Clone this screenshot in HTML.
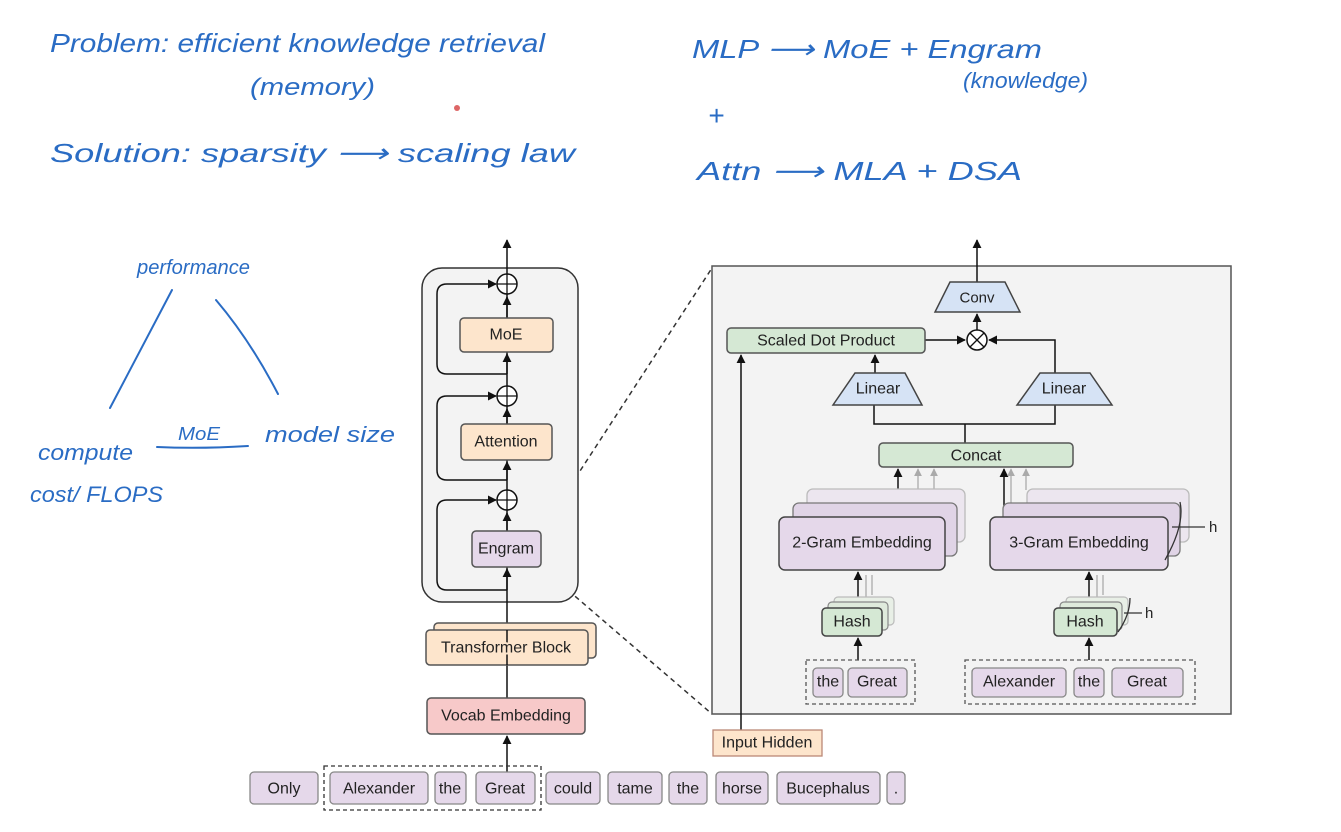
<!DOCTYPE html>
<html><head><meta charset="utf-8"><style>
html,body{margin:0;padding:0;background:#fff;}
svg{display:block}
.h{font-family:"Liberation Sans",sans-serif;fill:#2a6cc4;font-style:italic;}
.t{font-family:"Liberation Sans",sans-serif;fill:#222;text-anchor:middle;dominant-baseline:central;}
</style></head><body>
<svg width="1341" height="832" viewBox="0 0 1341 832" xmlns="http://www.w3.org/2000/svg">
<defs>
<marker id="a" viewBox="0 0 10 10" refX="9" refY="5" markerWidth="6" markerHeight="6" orient="auto"><path d="M0,0L10,5L0,10z" fill="#111"/></marker>
<marker id="g" viewBox="0 0 10 10" refX="9" refY="5" markerWidth="6" markerHeight="6" orient="auto"><path d="M0,0L10,5L0,10z" fill="#aaa"/></marker>
</defs>
<rect width="1341" height="832" fill="#fff"/>
<g class="h">
<text x="50" y="52" font-size="26" textLength="495" lengthAdjust="spacingAndGlyphs">Problem: efficient knowledge retrieval</text>
<text x="250" y="95" font-size="24" textLength="125" lengthAdjust="spacingAndGlyphs">(memory)</text>
<text x="50" y="162" font-size="26" textLength="525" lengthAdjust="spacingAndGlyphs">Solution:  sparsity  ⟶  scaling  law</text>
<text x="692" y="58" font-size="26" textLength="350" lengthAdjust="spacingAndGlyphs">MLP ⟶ MoE  +  Engram</text>
<text x="963" y="88" font-size="22" textLength="125" lengthAdjust="spacingAndGlyphs">(knowledge)</text>
<text x="708" y="125" font-size="28">+</text>
<text x="697" y="180" font-size="26" textLength="325" lengthAdjust="spacingAndGlyphs">Attn ⟶ MLA  +  DSA</text>
<text x="137" y="274" font-size="20" textLength="113" lengthAdjust="spacingAndGlyphs">performance</text>
<text x="38" y="460" font-size="22" textLength="95" lengthAdjust="spacingAndGlyphs">compute</text>
<text x="178" y="440" font-size="18" textLength="42" lengthAdjust="spacingAndGlyphs">MoE</text>
<text x="265" y="442" font-size="22" textLength="130" lengthAdjust="spacingAndGlyphs">model size</text>
<text x="30" y="502" font-size="22" textLength="133" lengthAdjust="spacingAndGlyphs">cost/ FLOPS</text>
</g>
<g stroke="#2a6cc4" stroke-width="2" fill="none" stroke-linecap="round">
<path d="M172,290 L110,408"/><path d="M216,300 Q250,340 278,394"/><path d="M157,447 Q200,449 248,446"/>
</g>
<circle cx="457" cy="108" r="3" fill="#d66" />
<g stroke="#333" stroke-width="1.5" stroke-dasharray="5,4">
<line x1="541" y1="531" x2="712" y2="268"/><line x1="541" y1="567" x2="712" y2="714"/>
</g>
<rect x="422" y="268" width="156" height="334" rx="20" fill="#f3f3f3" stroke="#333" stroke-width="1.5"/>
<g stroke="#111" stroke-width="1.5" fill="none">
<line x1="507" y1="698" x2="507" y2="240" marker-end="url(#a)"/>
<path d="M507,374 H447 Q437,374 437,364 V294 Q437,284 447,284 H496" marker-end="url(#a)"/>
<path d="M507,480 H447 Q437,480 437,470 V406 Q437,396 447,396 H496" marker-end="url(#a)"/>
<path d="M507,590 H447 Q437,590 437,580 V510 Q437,500 447,500 H496" marker-end="url(#a)"/>
<line x1="507" y1="318" x2="507" y2="297" marker-end="url(#a)"/>
<line x1="507" y1="424" x2="507" y2="409" marker-end="url(#a)"/>
<line x1="507" y1="531" x2="507" y2="513" marker-end="url(#a)"/>
<line x1="507" y1="374" x2="507" y2="354" marker-end="url(#a)"/>
<line x1="507" y1="480" x2="507" y2="462" marker-end="url(#a)"/>
<line x1="507" y1="590" x2="507" y2="569" marker-end="url(#a)"/>
<line x1="507" y1="772" x2="507" y2="736" marker-end="url(#a)"/>
</g>
<g fill="#fff" stroke="#111" stroke-width="1.5">
<circle cx="507" cy="284" r="10"/><circle cx="507" cy="396" r="10"/><circle cx="507" cy="500" r="10"/>
</g>
<g stroke="#111" stroke-width="1.3"><path d="M497,284h20M507,274v20M497,396h20M507,386v20M497,500h20M507,490v20"/></g>
<rect x="460" y="318" width="93" height="34" rx="4" fill="#fde5cc" stroke="#555" stroke-width="1.5"/>
<text class="t" x="506" y="335" font-size="16">MoE</text>
<rect x="461" y="424" width="91" height="36" rx="4" fill="#fde5cc" stroke="#555" stroke-width="1.5"/>
<text class="t" x="506" y="442" font-size="16">Attention</text>
<rect x="472" y="531" width="69" height="36" rx="4" fill="#e5d8ea" stroke="#555" stroke-width="1.5"/>
<text class="t" x="506" y="549" font-size="16">Engram</text>
<rect x="434" y="623" width="162" height="35" rx="4" fill="#fde5cc" stroke="#555" stroke-width="1.5"/>
<rect x="426" y="630" width="162" height="35" rx="4" fill="#fde5cc" stroke="#555" stroke-width="1.5"/>
<line x1="507" y1="630" x2="507" y2="665" stroke="#111" stroke-width="1.5"/>
<text class="t" x="506" y="648" font-size="16" style="paint-order:stroke" stroke="#fde5cc" stroke-width="4">Transformer Block</text>
<rect x="427" y="698" width="158" height="36" rx="4" fill="#f7c9c9" stroke="#555" stroke-width="1.5"/>
<text class="t" x="506" y="716" font-size="16">Vocab Embedding</text>
<rect x="324" y="766" width="217" height="44" fill="none" stroke="#333" stroke-width="1.3" stroke-dasharray="4,3"/>
<g fill="#e5d8ea" stroke="#888" stroke-width="1.3">
<rect x="250" y="772" width="68" height="32" rx="4"/><rect x="330" y="772" width="98" height="32" rx="4"/><rect x="435" y="772" width="31" height="32" rx="4"/><rect x="476" y="772" width="59" height="32" rx="4"/><rect x="546" y="772" width="54" height="32" rx="4"/><rect x="608" y="772" width="54" height="32" rx="4"/><rect x="669" y="772" width="38" height="32" rx="4"/><rect x="716" y="772" width="52" height="32" rx="4"/><rect x="777" y="772" width="103" height="32" rx="4"/><rect x="887" y="772" width="18" height="32" rx="4"/>
</g>
<g class="t" font-size="16">
<text x="284" y="789">Only</text><text x="379" y="789">Alexander</text><text x="450" y="789">the</text><text x="505" y="789">Great</text><text x="573" y="789">could</text><text x="635" y="789">tame</text><text x="688" y="789">the</text><text x="742" y="789">horse</text><text x="828" y="789">Bucephalus</text><text x="896" y="789">.</text>
</g>
<rect x="712" y="266" width="519" height="448" fill="#f3f3f3" stroke="#555" stroke-width="1.5"/>
<g stroke="#111" stroke-width="1.5" fill="none">
<line x1="977" y1="282" x2="977" y2="240" marker-end="url(#a)"/>
<line x1="977" y1="330" x2="977" y2="314" marker-end="url(#a)"/>
<line x1="925" y1="340" x2="965" y2="340" marker-end="url(#a)"/>
<path d="M1055,373 V340 H989" marker-end="url(#a)"/>
<line x1="875" y1="373" x2="875" y2="355" marker-end="url(#a)"/>
<path d="M874,405 V424 H1055 V405 M965,424 V443"/>
<line x1="741" y1="730" x2="741" y2="355" marker-end="url(#a)"/>
<line x1="898" y1="517" x2="898" y2="469" marker-end="url(#a)"/>
<line x1="1004" y1="517" x2="1004" y2="469" marker-end="url(#a)"/>
<line x1="858" y1="608" x2="858" y2="572" marker-end="url(#a)"/>
<line x1="858" y1="660" x2="858" y2="638" marker-end="url(#a)"/>
<line x1="1089" y1="608" x2="1089" y2="572" marker-end="url(#a)"/>
<line x1="1089" y1="660" x2="1089" y2="638" marker-end="url(#a)"/>
</g>
<g stroke="#aaa" stroke-width="1.3">
<line x1="918" y1="503" x2="918" y2="469" marker-end="url(#g)"/><line x1="934" y1="490" x2="934" y2="469" marker-end="url(#g)"/>
<line x1="1011" y1="503" x2="1011" y2="469" marker-end="url(#g)"/><line x1="1026" y1="490" x2="1026" y2="469" marker-end="url(#g)"/>
<line x1="866" y1="575" x2="866" y2="600"/><line x1="872" y1="575" x2="872" y2="595"/>
<line x1="1097" y1="575" x2="1097" y2="600"/><line x1="1103" y1="575" x2="1103" y2="595"/>
</g>
<polygon points="950,282 1005,282 1020,312 935,312" fill="#d6e3f5" stroke="#444" stroke-width="1.5"/>
<text class="t" x="977" y="298" font-size="15">Conv</text>
<circle cx="977" cy="340" r="10" fill="#fff" stroke="#111" stroke-width="1.5"/>
<path d="M970,333l14,14M984,333l-14,14" stroke="#111" stroke-width="1.3"/>
<rect x="727" y="328" width="198" height="25" rx="4" fill="#d5e8d4" stroke="#555" stroke-width="1.5"/>
<text class="t" x="826" y="341" font-size="16">Scaled Dot Product</text>
<polygon points="855,373 905,373 922,405 833,405" fill="#d6e3f5" stroke="#444" stroke-width="1.5"/>
<text class="t" x="878" y="389" font-size="16">Linear</text>
<polygon points="1040,373 1090,373 1112,405 1017,405" fill="#d6e3f5" stroke="#444" stroke-width="1.5"/>
<text class="t" x="1064" y="389" font-size="16">Linear</text>
<rect x="879" y="443" width="194" height="24" rx="4" fill="#d5e8d4" stroke="#555" stroke-width="1.5"/>
<text class="t" x="976" y="456" font-size="16">Concat</text>
<rect x="807" y="489" width="158" height="53" rx="6" fill="#ece6ef" stroke="#bbb" stroke-width="1.3"/>
<rect x="793" y="503" width="164" height="53" rx="6" fill="#e0d4e6" stroke="#777" stroke-width="1.3"/>
<rect x="779" y="517" width="166" height="53" rx="6" fill="#e5d8ea" stroke="#444" stroke-width="1.5"/>
<text class="t" x="862" y="543" font-size="16">2-Gram Embedding</text>
<rect x="1027" y="489" width="162" height="53" rx="6" fill="#ece6ef" stroke="#bbb" stroke-width="1.3"/>
<rect x="1003" y="503" width="177" height="53" rx="6" fill="#e0d4e6" stroke="#777" stroke-width="1.3"/>
<rect x="990" y="517" width="178" height="53" rx="6" fill="#e5d8ea" stroke="#444" stroke-width="1.5"/>
<text class="t" x="1079" y="543" font-size="16">3-Gram Embedding</text>
<path d="M1180,502 Q1185,525 1165,560 M1172,527 H1205" stroke="#333" stroke-width="1.3" fill="none"/>
<text x="1209" y="532" font-family="Liberation Sans,sans-serif" font-size="15" fill="#222">h</text>
<rect x="834" y="597" width="60" height="28" rx="4" fill="#e8efe6" stroke="#bbb" stroke-width="1.2"/>
<rect x="828" y="602" width="60" height="28" rx="4" fill="#dfeadc" stroke="#888" stroke-width="1.2"/>
<rect x="822" y="608" width="60" height="28" rx="4" fill="#d5e8d4" stroke="#444" stroke-width="1.5"/>
<text class="t" x="852" y="622" font-size="16">Hash</text>
<rect x="1066" y="597" width="62" height="28" rx="4" fill="#e8efe6" stroke="#bbb" stroke-width="1.2"/>
<rect x="1060" y="602" width="62" height="28" rx="4" fill="#dfeadc" stroke="#888" stroke-width="1.2"/>
<rect x="1054" y="608" width="63" height="28" rx="4" fill="#d5e8d4" stroke="#444" stroke-width="1.5"/>
<text class="t" x="1085" y="622" font-size="16">Hash</text>
<path d="M1130,598 Q1130,615 1118,632 M1124,613 H1142" stroke="#333" stroke-width="1.3" fill="none"/>
<text x="1145" y="618" font-family="Liberation Sans,sans-serif" font-size="15" fill="#222">h</text>
<rect x="806" y="660" width="109" height="44" fill="none" stroke="#555" stroke-width="1.3" stroke-dasharray="4,3"/>
<rect x="965" y="660" width="230" height="44" fill="none" stroke="#555" stroke-width="1.3" stroke-dasharray="4,3"/>
<g fill="#e5d8ea" stroke="#888" stroke-width="1.3">
<rect x="813" y="668" width="30" height="29" rx="4"/><rect x="848" y="668" width="59" height="29" rx="4"/>
<rect x="972" y="668" width="94" height="29" rx="4"/><rect x="1074" y="668" width="30" height="29" rx="4"/><rect x="1112" y="668" width="71" height="29" rx="4"/>
</g>
<g class="t" font-size="16">
<text x="828" y="682">the</text><text x="877" y="682">Great</text><text x="1019" y="682">Alexander</text><text x="1089" y="682">the</text><text x="1147" y="682">Great</text>
</g>
<rect x="713" y="730" width="109" height="26" fill="#fde5cc" stroke="#b87" stroke-width="1.3"/>
<text class="t" x="767" y="743" font-size="16">Input Hidden</text>
</svg>
</body></html>
